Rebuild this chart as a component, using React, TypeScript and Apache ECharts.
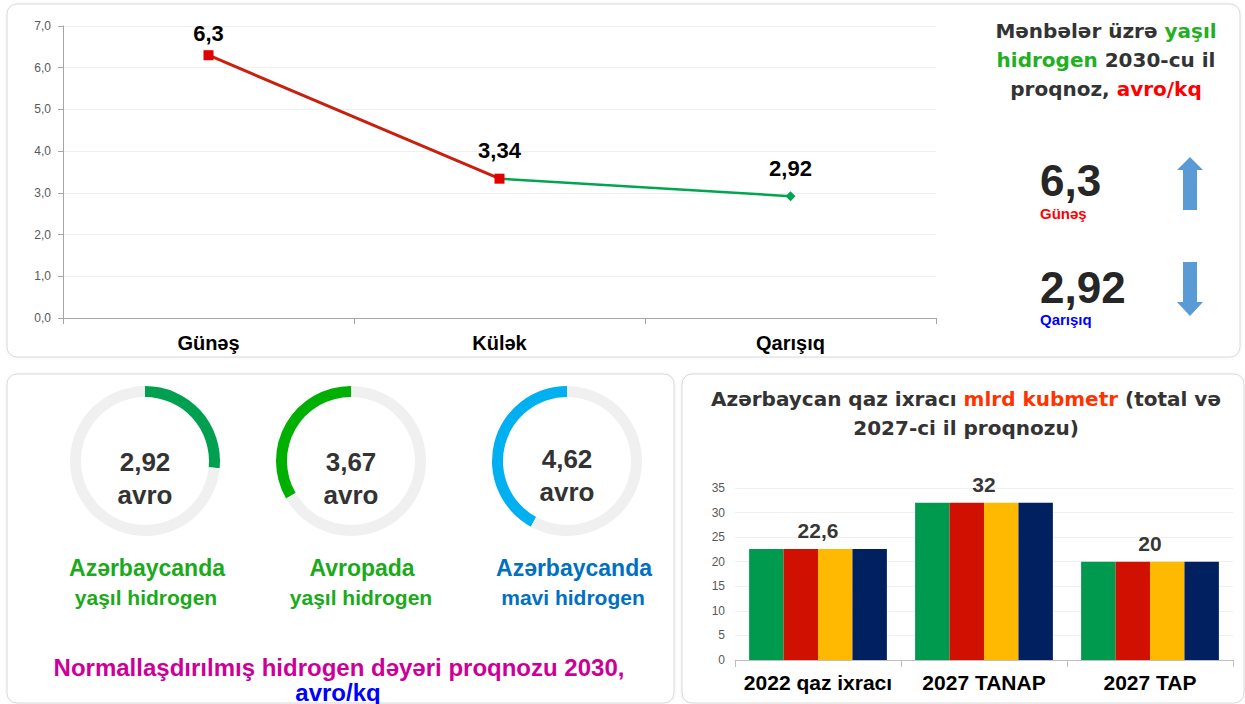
import React, { useEffect, useRef } from 'react';
import * as echarts from 'echarts';

const lineCategories = ['Günəş', 'Külək', 'Qarışıq'];
const lineValues = [6.3, 3.34, 2.92];
const lineAxisMax = 7;

const donutValues = [2.92, 3.67, 4.62];
const donutScaleMax = 11;
const donutTitles = ['Azərbaycanda', 'Avropada', 'Azərbaycanda'];
const donutSubtitles = ['yaşıl hidrogen', 'yaşıl hidrogen', 'mavi hidrogen'];
const donutUnit = 'avro';

const barCategories = ['2022 qaz ixracı', '2027 TANAP', '2027 TAP'];
const barValues = [22.6, 32, 20];
const barAxisMax = 35;

const highlightValues = [6.3, 2.92];
const highlightNames = ['Günəş', 'Qarışıq'];

const FONT = '"Liberation Sans", Arial, sans-serif';
const WIDE = '"DejaVu Sans", "Liberation Sans", sans-serif';
const fmt = (v: number) => String(v).replace('.', ',');

const donutColors = ['#00a050', '#00b000', '#00b0f0'];
const donutCenters = [145, 351, 567];
const donutClockwise = [true, false, false];
const donutTitleColors = ['#1aaa1a', '#1aaa1a', '#0070c0'];
const donutTitleX = [147, 362, 574];
const barColors = ['#009a4e', '#d01000', '#ffb900', '#002060'];

function txt(x: number, y: number, text: string, size: number, fill: string, align = 'center', family = FONT) {
  return {
    type: 'text',
    x,
    y,
    z: 10,
    style: {
      text,
      fill,
      fontSize: size,
      fontWeight: 'bold',
      fontFamily: family,
      align,
      verticalAlign: 'middle',
    },
  };
}

export default function App() {
  const ref = useRef<HTMLDivElement>(null);

  useEffect(() => {
    if (!ref.current) return;
    const chart = echarts.init(ref.current, undefined, { renderer: 'svg' });

    const panel = (x: number, y: number, w: number, h: number) => ({
      type: 'rect',
      z: -10,
      shape: { x, y, width: w, height: h, r: 10 },
      style: { fill: '#ffffff', stroke: '#d9d9d9', lineWidth: 1, shadowBlur: 3, shadowColor: 'rgba(0,0,0,0.08)' },
    });

    const rs = (fill: string) => ({ fill, fontSize: 20, fontWeight: 'bold', fontFamily: WIDE, lineHeight: 29 });

    const graphics: any[] = [
      panel(7, 4, 1233, 353),
      panel(7, 374, 667, 329),
      panel(682, 374, 562, 329),
      {
        type: 'text',
        x: 1106,
        y: 16,
        z: 10,
        style: {
          text: '{d|Mənbələr üzrə }{g|yaşıl}\n{g|hidrogen}{d| 2030-cu il}\n{d|proqnoz, }{r|avro/kq}',
          align: 'center',
          verticalAlign: 'top',
          rich: { d: rs('#333333'), g: rs('#22b022'), r: rs('#ff0000') },
        },
      },
      txt(1040, 180, fmt(highlightValues[0]), 44, '#262626', 'left'),
      txt(1040, 213, highlightNames[0], 15, '#ff0000', 'left'),
      txt(1040, 287, fmt(highlightValues[1]), 44, '#262626', 'left'),
      txt(1040, 319, highlightNames[1], 15, '#0000ff', 'left'),
      {
        type: 'polygon',
        z: 10,
        shape: { points: [[1190, 157], [1203, 170], [1197, 170], [1197, 210], [1183, 210], [1183, 170], [1177, 170]] },
        style: { fill: '#5b9bd5' },
      },
      {
        type: 'polygon',
        z: 10,
        shape: { points: [[1183, 262], [1197, 262], [1197, 302], [1203, 302], [1190, 316], [1177, 302], [1183, 302]] },
        style: { fill: '#5b9bd5' },
      },
      {
        type: 'text',
        x: 966,
        y: 384,
        z: 10,
        style: {
          text: '{d|Azərbaycan qaz ixracı }{r|mlrd kubmetr}{d| (total və}\n{d|2027-ci il proqnozu)}',
          align: 'center',
          verticalAlign: 'top',
          rich: { d: rs('#333333'), r: rs('#ff3300') },
        },
      },
      txt(339, 667, 'Normallaşdırılmış hidrogen dəyəri proqnozu 2030,', 24, '#cc0099'),
      txt(338, 692, 'avro/kq', 24, '#0000ff'),
    ];

    donutValues.forEach((v, i) => {
      const cy = i === 2 ? 459 : 462;
      graphics.push(txt(donutCenters[i], cy, fmt(v), 26, '#333333'));
      graphics.push(txt(donutCenters[i], cy + 33, donutUnit, 26, '#333333'));
      graphics.push(txt(donutTitleX[i], 568, donutTitles[i], 23, donutTitleColors[i]));
      graphics.push(txt(donutTitleX[i] - 1, 597, donutSubtitles[i], 21, donutTitleColors[i]));
    });

    const redData = lineValues.map((v, i) =>
      i < 2 ? { value: v, label: { distance: i === 0 ? 6 : 12 } } : null
    );
    const greenData = lineValues.map((v, i) =>
      i === 0 ? null : i === 1 ? { value: v, symbol: 'none', label: { show: false } } : { value: v }
    );

    const pieSeries = donutValues.map((v, i) => ({
      type: 'pie',
      silent: true,
      center: [donutCenters[i], 461],
      radius: [64, 75],
      startAngle: 90,
      clockwise: donutClockwise[i],
      label: { show: false },
      labelLine: { show: false },
      emphasis: { disabled: true },
      data: [
        { value: v, itemStyle: { color: donutColors[i] } },
        { value: donutScaleMax - v, itemStyle: { color: '#f0f0f0' } },
      ],
    }));

    const barSeries = barColors.map((c) => ({
      type: 'bar',
      xAxisIndex: 1,
      yAxisIndex: 1,
      data: barValues,
      barGap: '0%',
      barCategoryGap: '17%',
      itemStyle: { color: c },
      silent: true,
    }));

    const pointLabel = {
      show: true,
      position: 'top',
      distance: 12,
      color: '#000',
      fontSize: 22,
      fontWeight: 'bold',
      formatter: (p: any) => fmt(p.value),
    };

    chart.setOption({
      animation: false,
      backgroundColor: '#ffffff',
      textStyle: { fontFamily: FONT },
      grid: [
        { left: 63, top: 26, width: 873, height: 292 },
        { left: 735, top: 488, width: 498, height: 172 },
      ],
      xAxis: [
        {
          type: 'category',
          gridIndex: 0,
          data: lineCategories,
          axisLine: { lineStyle: { color: '#a6a6a6' } },
          axisTick: { show: true, length: 6, lineStyle: { color: '#a6a6a6' } },
          axisLabel: { color: '#000', fontSize: 20, fontWeight: 'bold', margin: 15, interval: 0 },
        },
        {
          type: 'category',
          gridIndex: 1,
          data: barCategories,
          axisLine: { lineStyle: { color: '#bfbfbf' } },
          axisTick: { show: true, length: 7, lineStyle: { color: '#bfbfbf' } },
          axisLabel: { color: '#000', fontSize: 21, fontWeight: 'bold', margin: 12, interval: 0, hideOverlap: false },
        },
      ],
      yAxis: [
        {
          type: 'value',
          gridIndex: 0,
          min: 0,
          max: lineAxisMax,
          interval: 1,
          axisLine: { show: true, lineStyle: { color: '#a6a6a6' } },
          axisTick: { show: true, length: 5, lineStyle: { color: '#a6a6a6' } },
          splitLine: { lineStyle: { color: '#f0f0f0' } },
          axisLabel: {
            color: '#595959',
            fontSize: 12,
            margin: 12,
            formatter: (v: number) => v.toFixed(1).replace('.', ','),
          },
        },
        {
          type: 'value',
          gridIndex: 1,
          min: 0,
          max: barAxisMax,
          interval: 5,
          axisLine: { show: false },
          axisTick: { show: false },
          splitLine: { lineStyle: { color: '#f0f0f0' } },
          axisLabel: { color: '#595959', fontSize: 12, margin: 10 },
        },
      ],
      series: [
        {
          type: 'line',
          xAxisIndex: 0,
          yAxisIndex: 0,
          data: greenData,
          z: 3,
          lineStyle: { color: '#00a550', width: 2.5 },
          itemStyle: { color: '#00a550' },
          symbol: 'diamond',
          symbolSize: 10,
          label: pointLabel,
          silent: true,
        },
        {
          type: 'line',
          xAxisIndex: 0,
          yAxisIndex: 0,
          data: redData,
          z: 4,
          lineStyle: { color: '#c8200f', width: 3 },
          itemStyle: { color: '#e00000' },
          symbol: 'rect',
          symbolSize: 10,
          label: pointLabel,
          silent: true,
        },
        ...pieSeries,
        ...barSeries,
        {
          type: 'scatter',
          xAxisIndex: 1,
          yAxisIndex: 1,
          data: barValues,
          symbolSize: 1,
          itemStyle: { color: 'rgba(0,0,0,0)' },
          z: 5,
          silent: true,
          label: {
            show: true,
            position: 'top',
            distance: 7,
            color: '#000',
            fontSize: 21,
            fontWeight: 'bold',
            formatter: (p: any) => fmt(p.value),
          },
        },
      ],
      graphic: graphics,
    });

    return () => chart.dispose();
  }, []);

  return <div ref={ref} style={{ position: 'fixed', left: 0, top: 0, width: 1245, height: 704 }} />;
}
